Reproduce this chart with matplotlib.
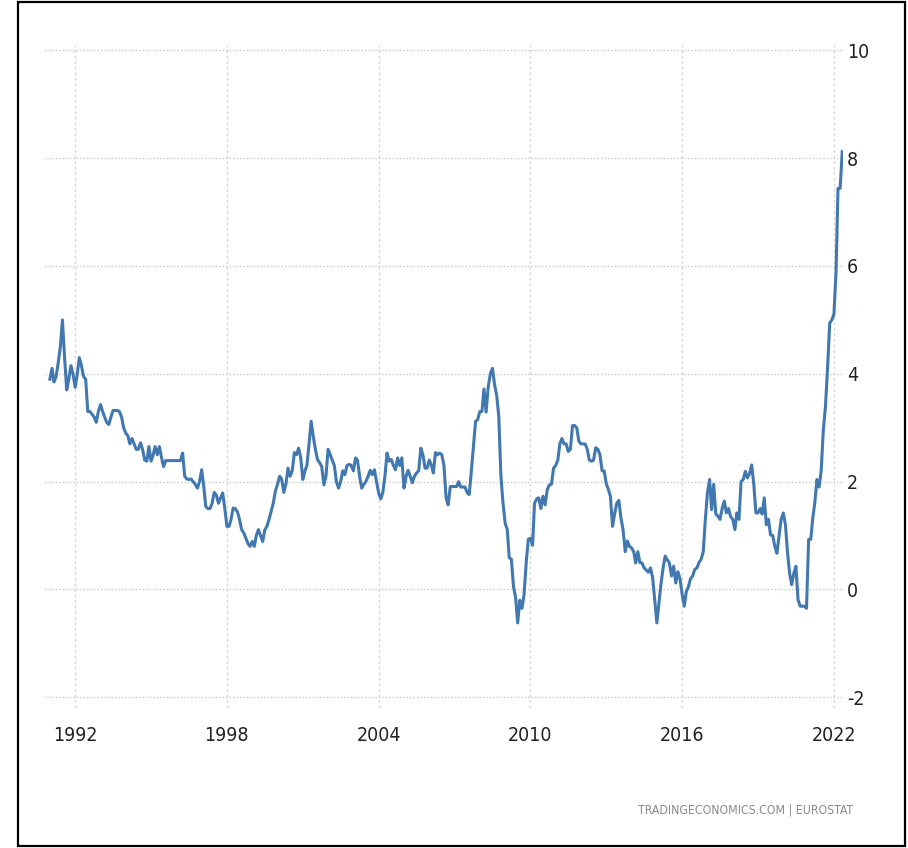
import matplotlib
matplotlib.use("Agg")
import matplotlib.pyplot as plt
import matplotlib.dates as mdates
from matplotlib.patches import Rectangle
from matplotlib import font_manager
import pandas as pd

###
# Euro area annual inflation rate (%), monthly, Jan 1991 - May 2022
###
start_month = "1991-01-01"
end_month = "2022-05-01"
inflation = [
    3.90, 4.10, 3.85, 3.95, 4.20, 4.50, 5.00, 4.30, 3.70, 3.90, 4.15, 4.00,   # 1991
    3.75, 4.00, 4.30, 4.15, 3.95, 3.90, 3.30, 3.30, 3.25, 3.20, 3.10, 3.30,   # 1992
    3.43, 3.30, 3.20, 3.10, 3.06, 3.20, 3.32, 3.32, 3.32, 3.30, 3.20, 3.00,   # 1993
    2.90, 2.85, 2.70, 2.80, 2.70, 2.60, 2.60, 2.72, 2.60, 2.40, 2.38, 2.65,   # 1994
    2.38, 2.50, 2.65, 2.50, 2.65, 2.45, 2.28, 2.39, 2.39, 2.39, 2.39, 2.39,   # 1995
    2.39, 2.39, 2.39, 2.53, 2.10, 2.05, 2.04, 2.05, 2.00, 1.95, 1.88, 2.00,   # 1996
    2.22, 1.90, 1.54, 1.50, 1.50, 1.60, 1.80, 1.75, 1.60, 1.70, 1.79, 1.50,   # 1997
    1.17, 1.17, 1.30, 1.51, 1.50, 1.44, 1.30, 1.11, 1.05, 0.95, 0.85, 0.80,   # 1998
    0.89, 0.80, 1.00, 1.11, 1.00, 0.89, 1.10, 1.17, 1.30, 1.45, 1.60, 1.82,   # 1999
    1.95, 2.10, 2.05, 1.80, 1.95, 2.25, 2.10, 2.20, 2.54, 2.50, 2.62, 2.45,   # 2000
    2.04, 2.20, 2.30, 2.70, 3.12, 2.84, 2.60, 2.41, 2.35, 2.28, 1.94, 2.10,   # 2001
    2.60, 2.50, 2.40, 2.30, 2.00, 1.88, 2.00, 2.20, 2.13, 2.30, 2.32, 2.30,   # 2002
    2.20, 2.44, 2.40, 2.10, 1.88, 1.95, 2.00, 2.10, 2.21, 2.13, 2.22, 2.00,   # 2003
    1.79, 1.68, 1.80, 2.10, 2.53, 2.38, 2.41, 2.30, 2.22, 2.44, 2.30, 2.44,   # 2004
    1.88, 2.10, 2.21, 2.10, 1.98, 2.10, 2.16, 2.20, 2.62, 2.50, 2.25, 2.25,   # 2005
    2.40, 2.30, 2.16, 2.54, 2.50, 2.53, 2.50, 2.30, 1.70, 1.57, 1.91, 1.91,   # 2006
    1.91, 1.91, 2.00, 1.90, 1.90, 1.90, 1.80, 1.76, 2.20, 2.65, 3.12, 3.15,   # 2007
    3.30, 3.30, 3.72, 3.29, 3.75, 4.00, 4.10, 3.80, 3.60, 3.21, 2.10, 1.60,   # 2008
    1.23, 1.11, 0.59, 0.56, 0.06, -0.15, -0.62, -0.20, -0.35, -0.10, 0.50, 0.93,  # 2009
    0.95, 0.82, 1.60, 1.68, 1.70, 1.50, 1.73, 1.57, 1.85, 1.94, 1.95, 2.25,   # 2010
    2.30, 2.40, 2.70, 2.80, 2.70, 2.70, 2.56, 2.60, 3.04, 3.04, 3.00, 2.75,   # 2011
    2.70, 2.70, 2.70, 2.60, 2.40, 2.38, 2.40, 2.63, 2.60, 2.50, 2.20, 2.20,   # 2012
    1.96, 1.85, 1.73, 1.17, 1.40, 1.60, 1.65, 1.32, 1.10, 0.70, 0.90, 0.80,   # 2013
    0.77, 0.70, 0.49, 0.70, 0.50, 0.49, 0.40, 0.36, 0.32, 0.40, 0.22, -0.20,  # 2014
    -0.62, -0.25, 0.10, 0.40, 0.62, 0.55, 0.49, 0.25, 0.43, 0.12, 0.33, 0.20,  # 2015
    -0.09, -0.31, -0.04, 0.05, 0.20, 0.25, 0.37, 0.40, 0.50, 0.56, 0.70, 1.30,  # 2016
    1.80, 2.04, 1.48, 1.95, 1.40, 1.36, 1.30, 1.50, 1.64, 1.42, 1.50, 1.35,   # 2017
    1.30, 1.11, 1.42, 1.30, 2.00, 2.04, 2.19, 2.07, 2.15, 2.31, 1.95, 1.42,   # 2018
    1.42, 1.50, 1.40, 1.70, 1.20, 1.30, 1.01, 1.00, 0.80, 0.67, 1.00, 1.30,   # 2019
    1.42, 1.20, 0.70, 0.30, 0.09, 0.30, 0.43, -0.19, -0.31, -0.31, -0.31, -0.35,  # 2020
    0.93, 0.93, 1.32, 1.62, 2.04, 1.90, 2.20, 2.96, 3.40, 4.10, 4.94, 5.00,   # 2021
    5.10, 5.90, 7.44, 7.44, 8.12,                                             # 2022
]

year_ticks = [1992, 1998, 2004, 2010, 2016, 2022]
y_ticks = [-2, 0, 2, 4, 6, 8, 10]
source = "TRADINGECONOMICS.COM | EUROSTAT"

dates = pd.date_range(start_month, end_month, freq="MS")
series = pd.Series(inflation, index=dates)

plt.rcParams["axes.unicode_minus"] = False

# narrow font for the labels if one is around
names = {f.name for f in font_manager.fontManager.ttflist}
narrow = [n for n in ["Liberation Sans Narrow", "DejaVu Sans Condensed"] if n in names]
label_font = narrow + ["DejaVu Sans"]
label_stretch = "normal" if narrow else "condensed"

fig = plt.figure(figsize=(9.08, 8.48), dpi=100)
ax = fig.add_axes([0.0496, 0.165, 0.8788, 0.782])

ax.plot(series.index, series.values, color="#4178b0", lw=2.2, solid_joinstyle="round")

ax.set_xlim(pd.Timestamp("1990-10-23"), pd.Timestamp("2022-05-12"))
ax.set_ylim(-2.2, 10.1)

ax.set_xticks([pd.Timestamp(f"{y}-01-01") for y in year_ticks])
ax.xaxis.set_major_formatter(mdates.DateFormatter("%Y"))
ax.set_yticks(y_ticks)
ax.yaxis.tick_right()

for s in ax.spines.values():
    s.set_visible(False)
ax.tick_params(axis="both", length=0, colors="#222222", labelsize=14)
ax.tick_params(axis="x", pad=13)
ax.tick_params(axis="y", pad=3)
for lab in ax.get_xticklabels() + ax.get_yticklabels():
    lab.set_family(label_font)
    lab.set_stretch(label_stretch)

ax.grid(axis="y", color="#c8c8c8", lw=1.0, ls=(0, (1, 1.5)))
ax.grid(axis="x", color="#d6d6d6", lw=1.0, ls=(0, (2, 2)))

fig.text(0.94, 0.045, source, ha="right", va="center", color="#8a8a8a",
         fontsize=8.8, family=label_font, stretch=label_stretch)

# black frame round the whole picture
fig.patches.append(Rectangle((0.0198, 0.0024), 0.977, 0.995, transform=fig.transFigure,
                             fill=False, edgecolor="black", lw=1.6))

fig.savefig("out.png", dpi=100)
